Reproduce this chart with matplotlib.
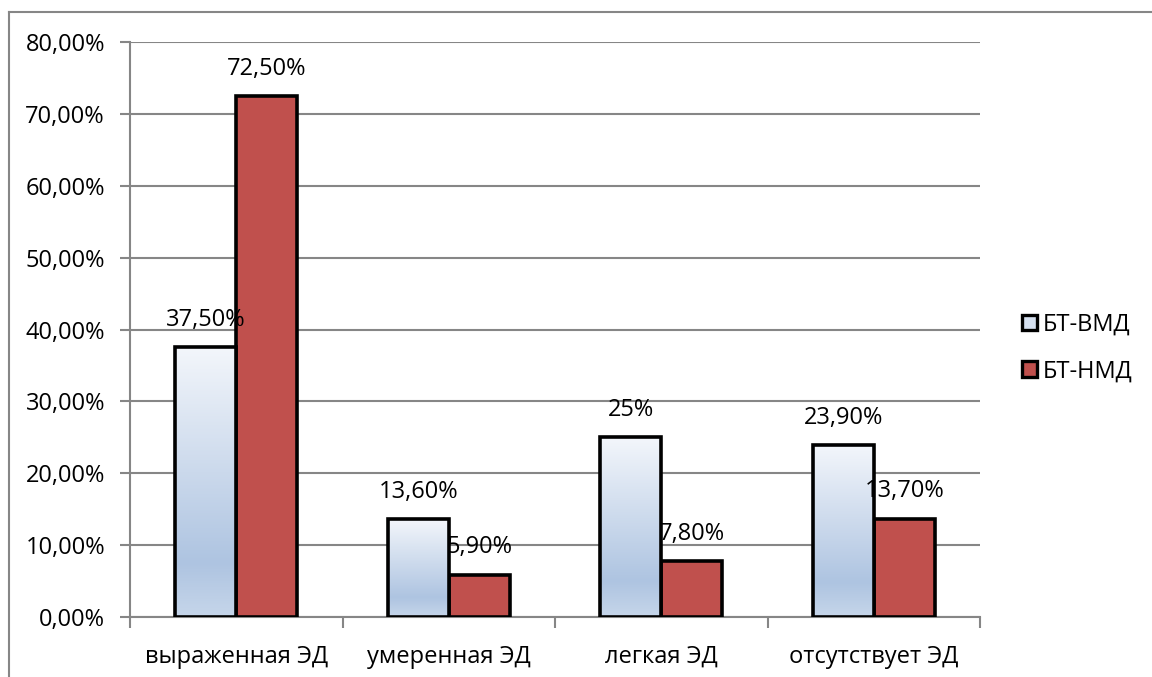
import numpy as np
import matplotlib
matplotlib.use("Agg")
import matplotlib.pyplot as plt
from matplotlib.patches import Patch, Rectangle
from matplotlib.lines import Line2D
from matplotlib.colors import LinearSegmentedColormap
from matplotlib.ticker import FuncFormatter

plt.rcParams['font.family'] = ['Open Sans', 'DejaVu Sans']

categories = ["выраженная ЭД", "умеренная ЭД", "легкая ЭД", "отсутствует ЭД"]
series_names = ["БТ-ВМД", "БТ-НМД"]
vmd_values = [37.5, 13.6, 25.0, 23.9]
nmd_values = [72.5, 5.9, 7.8, 13.7]
vmd_labels = ["37,50%", "13,60%", "25%", "23,90%"]
nmd_labels = ["72,50%", "5,90%", "7,80%", "13,70%"]
y_ticks = [0, 10, 20, 30, 40, 50, 60, 70, 80]

W, H = 1152, 677
fig = plt.figure(figsize=(W / 100, H / 100), dpi=100)
ax = fig.add_axes([130 / W, 1 - 617 / H, 850 / W, 575 / H])

grid_col = "#868686"
red = "#C0504D"
fs = 17

# outer chart frame (left and top edges are visible)
fig.add_artist(Line2D([9 / W, 9 / W], [0, 1 - 12 / H], transform=fig.transFigure,
                      color=grid_col, lw=1.5))
fig.add_artist(Line2D([9 / W, 1], [1 - 12 / H, 1 - 12 / H], transform=fig.transFigure,
                      color=grid_col, lw=1.5))

x = np.arange(len(categories))
bw = 0.287

blue_grad = LinearSegmentedColormap.from_list(
    "bluegrad", [(0.0, "#F3F6FB"), (0.8, "#AEC4E1"), (1.0, "#C6D6EA")])
grad = np.linspace(0, 1, 256).reshape(-1, 1)

red_bars = ax.bar(x + bw / 2, nmd_values, bw, color=red, edgecolor="black",
                  linewidth=2.6, zorder=3)
blue_bars = ax.bar(x - bw / 2, vmd_values, bw, color="none", edgecolor="black",
                   linewidth=2.6, zorder=5)
for b in blue_bars:
    x0, y0 = b.get_x(), b.get_y()
    w, h = b.get_width(), b.get_height()
    im = ax.imshow(grad, cmap=blue_grad, aspect="auto",
                   extent=[x0, x0 + w, y0, y0 + h], origin="upper", zorder=4.5)
    clip = Rectangle((x0, y0), w, h, transform=ax.transData)
    im.set_clip_path(clip)

for bars, labels in ((red_bars, nmd_labels), (blue_bars, vmd_labels)):
    for b, lab in zip(bars, labels):
        ax.annotate(lab, (b.get_x() + b.get_width() / 2, b.get_height()),
                    xytext=(0, 11), textcoords="offset points", ha="center",
                    va="bottom", fontsize=fs, zorder=6)

ax.set_xlim(-0.5, len(categories) - 0.5)
ax.set_ylim(0, 80)
ax.set_yticks(y_ticks)
ax.yaxis.set_major_formatter(FuncFormatter(lambda v, p: f"{v:.2f}%".replace(".", ",")))
ax.yaxis.grid(True, color=grid_col, lw=1.5)
ax.set_axisbelow(True)
ax.tick_params(axis="y", length=7, width=1.5, color=grid_col, pad=11, labelsize=fs)

ax.set_xticks(x)
ax.set_xticklabels(categories)
ax.set_xticks(np.arange(len(categories) + 1) - 0.5, minor=True)
ax.tick_params(axis="x", which="major", length=0, pad=20, labelsize=fs)
ax.tick_params(axis="x", which="minor", length=8, width=1.5, color=grid_col)

for s in ["top", "right"]:
    ax.spines[s].set_visible(False)
for s in ["left", "bottom"]:
    ax.spines[s].set_color(grid_col)
    ax.spines[s].set_linewidth(1.5)

handles = [Patch(facecolor="#D5E0EF", edgecolor="black", linewidth=2.4),
           Patch(facecolor=red, edgecolor="black", linewidth=2.4)]
fig.legend(handles, series_names, loc="center left",
           bbox_to_anchor=(1010 / W, 1 - 348 / H), frameon=False, fontsize=fs,
           handlelength=0.65, handleheight=0.65, handletextpad=0.25,
           labelspacing=0.95, borderpad=0)

fig.savefig("out.png", dpi=100, facecolor="white")
